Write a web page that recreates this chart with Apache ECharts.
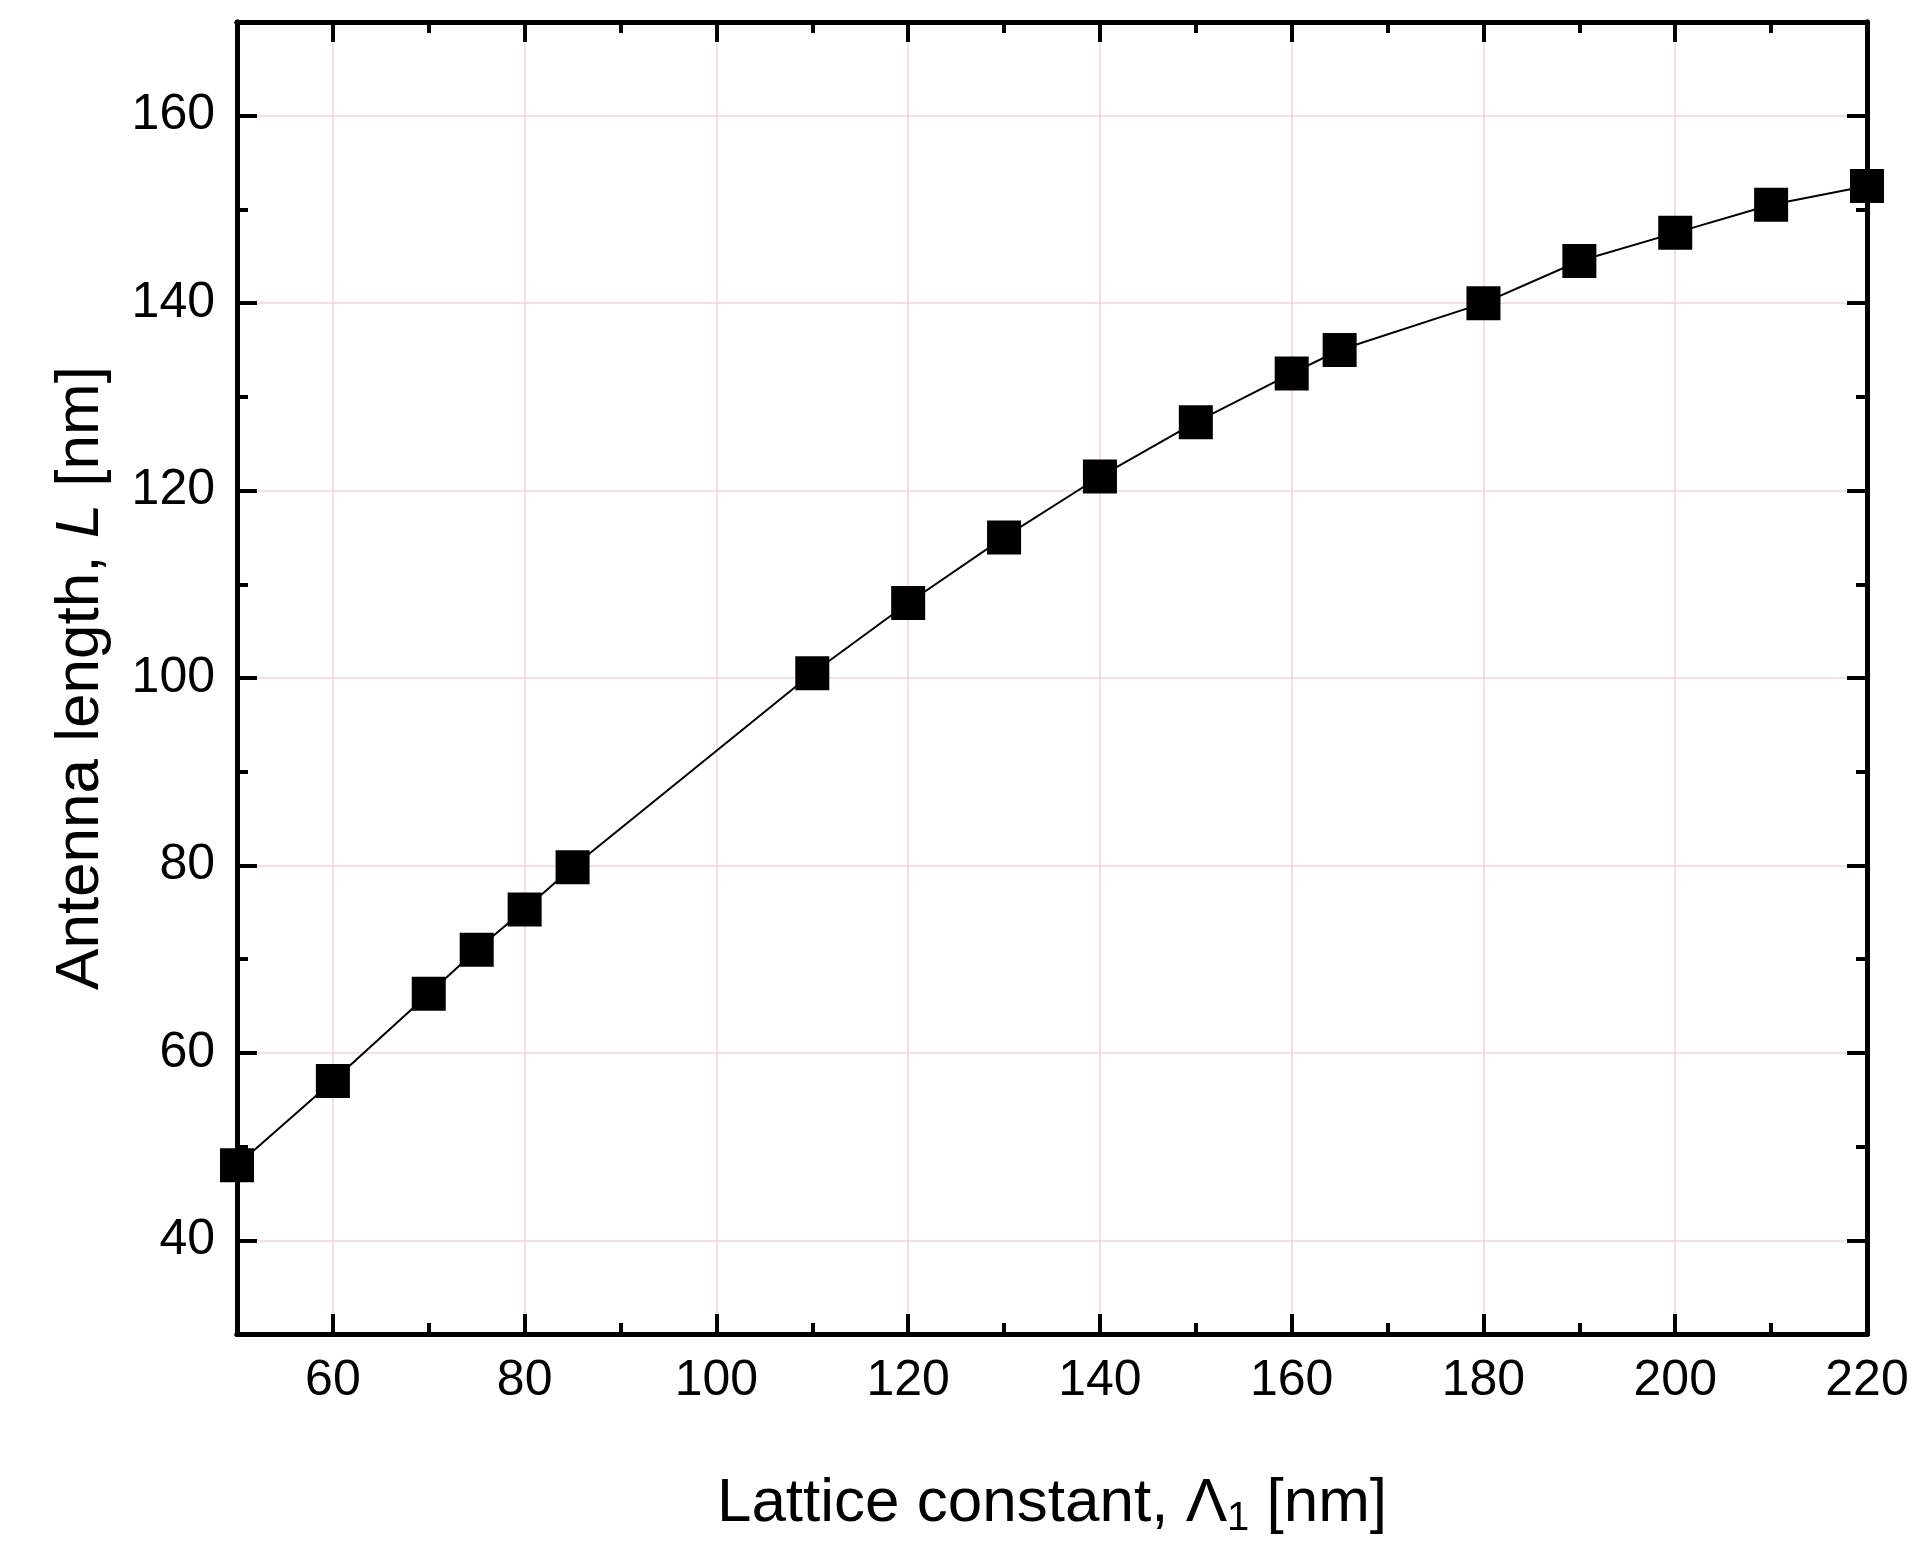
<!DOCTYPE html>
<html><head><meta charset="utf-8">
<script src="https://cdn.jsdelivr.net/npm/echarts@6/dist/echarts.min.js"></script>
<style>html,body{margin:0;padding:0;background:#fff}#main{width:1916px;height:1556px}</style>
</head><body><div id="main"></div>
<script>
var lattice = [50, 60, 70, 75, 80, 85, 110, 120, 130, 140, 150, 160, 165, 180, 190, 200, 210, 220];
var length = [48, 57, 66.3, 71, 75.3, 79.8, 100.5, 108, 115, 121.5, 127.3, 132.5, 135, 140, 144.5, 147.5, 150.5, 152.5];
var xMajor = [60, 80, 100, 120, 140, 160, 180, 200, 220];
var xMinor = [70, 90, 110, 130, 150, 170, 190, 210];
var yMajor = [40, 60, 80, 100, 120, 140, 160];
var yMinor = [30, 50, 70, 90, 110, 130, 150, 170];

var font = 'Liberation Sans, Arial, sans-serif';
var lineSt = { color: '#000', width: 5 };

function xAx(pos, ticks, len, labels, name, grid) {
    return {
        type: 'value', position: pos, min: 50, max: 220, interval: 10,
        axisLine: { show: true, onZero: false, lineStyle: lineSt },
        axisTick: { show: true, inside: true, length: len, customValues: ticks, lineStyle: { color: '#000', width: 4 } },
        axisLabel: { show: labels, customValues: xMajor, fontSize: 50, color: '#000', fontFamily: font, margin: 22 },
        splitLine: { show: grid, lineStyle: { color: '#f2d4d4', width: 1.5 } },
        name: name || '', nameLocation: 'middle', nameGap: 135,
        nameTextStyle: { fontSize: 62, color: '#000', fontFamily: font,
            rich: { s: { fontSize: 40, verticalAlign: 'bottom', padding: [30, 0, 0, 0], fontFamily: font } } }
    };
}
function yAx(pos, ticks, len, labels, name, grid) {
    return {
        type: 'value', position: pos, min: 30, max: 170, interval: 10,
        axisLine: { show: true, onZero: false, lineStyle: lineSt },
        axisTick: { show: true, inside: true, length: len, customValues: ticks, lineStyle: { color: '#000', width: 4 } },
        axisLabel: { show: labels, customValues: yMajor, fontSize: 50, color: '#000', fontFamily: font, margin: 22 },
        splitLine: { show: grid, lineStyle: { color: '#f2d4d4', width: 1.5 } },
        name: name || '', nameLocation: 'middle', nameGap: 125,
        nameTextStyle: { fontSize: 62, color: '#000', fontFamily: font,
            rich: { i: { fontSize: 62, fontStyle: 'italic', fontFamily: font } } }
    };
}

var chart = echarts.init(document.getElementById('main'));
chart.setOption({
    backgroundColor: '#fff',
    animation: false,
    grid: { left: 237, right: 49, top: 22, bottom: 222 },
    xAxis: [
        xAx('bottom', xMajor, 20, true, 'Lattice constant, Λ{s|1} [nm]', true),
        xAx('bottom', xMinor, 11, false, '', false),
        xAx('top', xMajor, 20, false, '', false),
        xAx('top', xMinor, 11, false, '', false)
    ],
    yAxis: [
        yAx('left', yMajor, 20, true, 'Antenna length, {i|L} [nm]', true),
        yAx('left', yMinor, 11, false, '', false),
        yAx('right', yMajor, 20, false, '', false),
        yAx('right', yMinor, 11, false, '', false)
    ],
    series: [{
        type: 'line',
        data: lattice.map(function (x, i) { return [x, length[i]]; }),
        symbol: 'rect', symbolSize: 34,
        itemStyle: { color: '#000' },
        lineStyle: { color: '#000', width: 2 }
    }]
});
</script></body></html>
